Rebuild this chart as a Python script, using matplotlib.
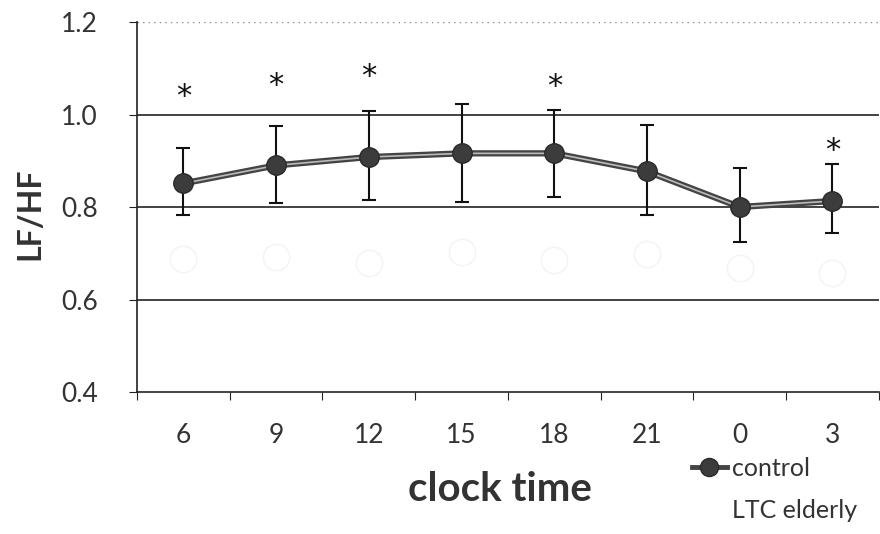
import matplotlib
matplotlib.use("Agg")
import matplotlib.pyplot as plt
from matplotlib.lines import Line2D

plt.rcParams["font.family"] = ["Lato", "DejaVu Sans"]

hours = ["6", "9", "12", "15", "18", "21", "0", "3"]
control = [0.851, 0.890, 0.908, 0.916, 0.916, 0.877, 0.800, 0.813]
control_hi = [0.927, 0.976, 1.007, 1.022, 1.009, 0.978, 0.884, 0.892]
control_lo = [0.782, 0.808, 0.815, 0.810, 0.822, 0.782, 0.724, 0.744]
ltc = [0.688, 0.692, 0.679, 0.703, 0.686, 0.699, 0.668, 0.657]
star_idx = [0, 1, 2, 4, 7]
star_y = [1.051, 1.075, 1.094, 1.073, 0.934]


def main():
    fig = plt.figure(figsize=(8.8, 5.34), dpi=100)
    ax = fig.add_axes([0.1557, 0.2659, 0.843, 0.6929])

    x = list(range(len(hours)))
    ax.set_xlim(-0.5, len(hours) - 0.5)
    ax.set_ylim(0.4, 1.2)

    # gridlines
    for g in [0.6, 0.8, 1.0]:
        ax.axhline(g, color="#222222", lw=1.2, zorder=1)
    ax.axhline(1.2, color="#888888", lw=1.0, ls=(0, (1, 3)), zorder=1)

    # second series is nearly invisible in the scan
    ax.plot(x, ltc, marker="o", ms=19, mfc="white", mec="#f3f3f3",
            color="white", lw=0, zorder=2)

    err = [[c - l for c, l in zip(control, control_lo)],
           [h - c for c, h in zip(control, control_hi)]]
    ax.errorbar(x, control, yerr=err, fmt="none", ecolor="#111111",
                elinewidth=1.5, capsize=5, capthick=1.5, zorder=3)
    ax.plot(x, control, color="#444444", lw=4.5, zorder=4)
    ax.plot(x, control, color="#bbbbbb", lw=1.2, zorder=5)
    ax.plot(x, control, lw=0, marker="o", ms=14, mfc="#3c3c3c",
            mec="#2a2a2a", zorder=6)

    for i, y in zip(star_idx, star_y):
        ax.annotate("*", (i, y), xytext=(0, -4), textcoords="offset points",
                    ha="center", va="center", fontsize=22,
                    color="#111111", family="DejaVu Sans")

    ax.spines["top"].set_visible(False)
    ax.spines["right"].set_visible(False)
    ax.spines["left"].set_color("#222222")
    ax.spines["bottom"].set_color("#222222")
    ax.spines["left"].set_linewidth(1.2)
    ax.spines["bottom"].set_linewidth(1.2)

    ax.set_yticks([0.4, 0.6, 0.8, 1.0, 1.2])
    ax.set_yticklabels(["0.4", "0.6", "0.8", "1.0", "1.2"])
    ax.set_xticks([i - 0.5 for i in range(len(hours) + 1)])
    ax.set_xticklabels([])
    ax.set_xticks(x, minor=True)
    ax.set_xticklabels(hours, minor=True)
    ax.tick_params(axis="x", which="minor", length=0, pad=22,
                   labelsize=19, labelcolor="#333333")
    ax.tick_params(axis="x", which="major", length=6, direction="out",
                   color="#222222")
    ax.tick_params(axis="y", length=6, direction="out", pad=22,
                   labelsize=19, labelcolor="#333333", color="#222222")

    fig.text(0.568, 0.083, "clock time", ha="center", va="center",
             fontsize=29, fontweight="bold", color="#333333")
    fig.text(0.034, 0.60, "LF/HF", ha="center", va="center", rotation=90,
             fontsize=23, fontweight="bold", color="#333333")

    handles = [
        Line2D([0], [0], color="#444444", lw=3.5, marker="o", ms=13,
               mfc="#3c3c3c", mec="#2a2a2a"),
        Line2D([0], [0], color="white", lw=0, marker="o", ms=13,
               mfc="white", mec="white"),
    ]
    fig.legend(handles, ["control", "LTC elderly"], loc="upper left",
               bbox_to_anchor=(0.772, 0.168), frameon=False,
               fontsize=18, handlelength=1.4, handletextpad=0.2,
               labelspacing=0.75, labelcolor="#333333", borderpad=0)

    fig.savefig("out.png", dpi=100)


if __name__ == "__main__":
    main()
